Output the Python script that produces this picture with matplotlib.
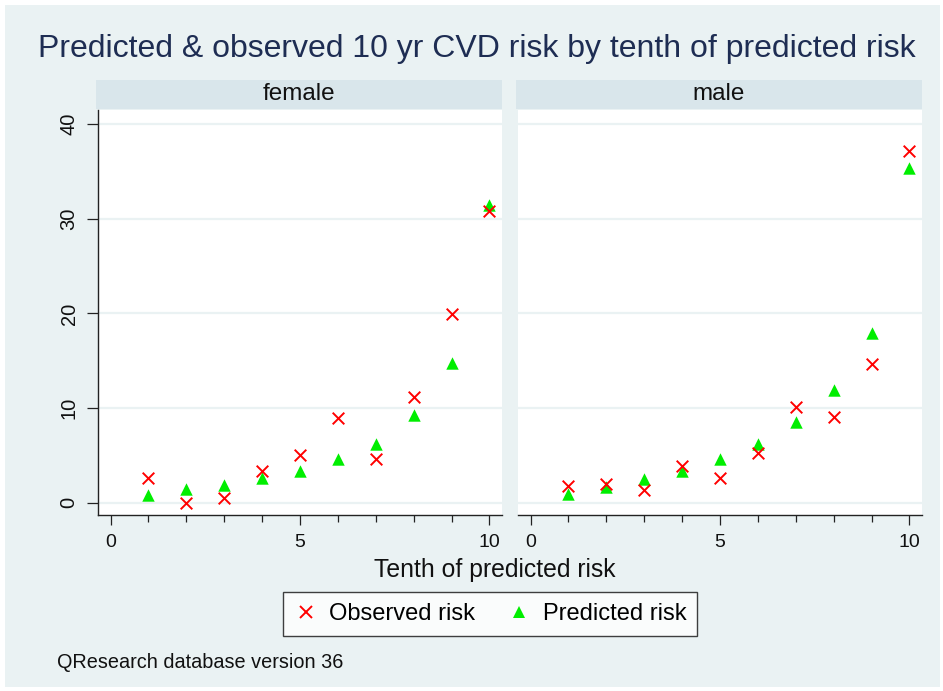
import matplotlib
matplotlib.use('Agg')
from matplotlib import pyplot as plt
from matplotlib.patches import Rectangle
from matplotlib.lines import Line2D

tenth = [1, 2, 3, 4, 5, 6, 7, 8, 9, 10]
panels = ['female', 'male']
observed = {
    'female': [2.6, 0.0, 0.5, 3.3, 5.0, 9.0, 4.6, 11.2, 19.9, 30.8],
    'male': [1.8, 2.0, 1.3, 3.9, 2.6, 5.2, 10.1, 9.1, 14.7, 37.2],
}
predicted = {
    'female': [0.8, 1.4, 1.9, 2.6, 3.4, 4.6, 6.2, 9.3, 14.8, 31.5],
    'male': [0.9, 1.7, 2.5, 3.4, 4.6, 6.2, 8.5, 11.9, 17.9, 35.4],
}
yticks = [0, 10, 20, 30, 40]
xticks = [0, 5, 10]

plt.rcParams['font.family'] = ['Liberation Sans', 'DejaVu Sans']

W, H = 943, 691
bg = '#eaf2f3'
strip_col = '#d9e6eb'
navy = '#1e2d53'

fig = plt.figure(figsize=(W / 100, H / 100), dpi=100)
fig.patch.set_facecolor('white')
fig.patches.append(Rectangle((5 / W, 4 / H), 935 / W, 682 / H, transform=fig.transFigure,
                             facecolor=bg, edgecolor='none', zorder=-10))


def px_axes(left, right, top, bottom):
    return fig.add_axes([left / W, 1 - bottom / H, (right - left) / W, (bottom - top) / H])


fig.text(477 / W, 1 - 49 / H, 'Predicted & observed 10 yr CVD risk by tenth of predicted risk',
         ha='center', va='center', fontsize=23, color=navy)

lefts = [98, 518]
for i, name in enumerate(panels):
    left = lefts[i]
    right = left + 404
    # strip
    sax = px_axes(left - 2, right, 80, 109)
    sax.set_facecolor(strip_col)
    sax.set_xticks([])
    sax.set_yticks([])
    for s in sax.spines.values():
        s.set_visible(False)
    sax.text(0.5, 0.5, name, ha='center', va='center', fontsize=17.5, color='#111111',
             transform=sax.transAxes)

    ax = px_axes(left, right, 110, 515)
    ax.set_facecolor('white')
    ax.set_xlim(-0.33, 10.33)
    ax.set_ylim(-1.3, 41.5)
    for y in yticks:
        ax.axhline(y, color=bg, lw=1.6, zorder=0)
    ax.scatter(tenth, observed[name], marker='x', s=70, color='#ff0000', linewidths=1.4, zorder=3)
    ax.scatter(tenth, predicted[name], marker='^', s=80, color='#00ee00', linewidths=0, zorder=2)

    for s in ['top', 'right']:
        ax.spines[s].set_visible(False)
    ax.spines['bottom'].set_color('#222222')
    ax.spines['bottom'].set_linewidth(1.0)
    ax.set_xticks(xticks)
    ax.set_xticks(tenth, minor=True)
    ax.tick_params(axis='x', which='major', length=7, width=0.9, color='#222222',
                   labelsize=14, pad=7, labelcolor='#111111')
    ax.tick_params(axis='x', which='minor', length=5, width=0.9, color='#222222')
    if i == 0:
        ax.spines['left'].set_color('#222222')
        ax.spines['left'].set_linewidth(1.0)
        ax.set_yticks(yticks)
        ax.tick_params(axis='y', length=8, width=0.9, color='#222222', labelsize=14.5,
                       labelcolor='#111111', pad=6)
        for lab in ax.get_yticklabels():
            lab.set_rotation(90)
            lab.set_va('center')
    else:
        ax.spines['left'].set_visible(False)
        ax.set_yticks([])

fig.text(495 / W, 1 - 570 / H, 'Tenth of predicted risk', ha='center', va='center',
         fontsize=17.8, color='#111111')

handles = [
    Line2D([], [], marker='x', ls='none', color='#ff0000', markersize=9, markeredgewidth=1.4,
           label='Observed risk'),
    Line2D([], [], marker='^', ls='none', color='#00ee00', markersize=9, markeredgewidth=0,
           label='Predicted risk'),
]
leg = fig.legend(handles=handles, loc='center', bbox_to_anchor=(490 / W, 1 - 614 / H), ncol=2,
                 fontsize=17, frameon=True, fancybox=False, edgecolor='#111111',
                 handletextpad=0.5, columnspacing=1.35, borderpad=0.45, handlelength=1.0)
leg.get_frame().set_linewidth(1.0)

fig.text(57 / W, 1 - 662 / H, 'QResearch database version 36', ha='left', va='center',
         fontsize=14.3, color='#111111')

fig.savefig('out.png', dpi=100, facecolor=fig.get_facecolor())
